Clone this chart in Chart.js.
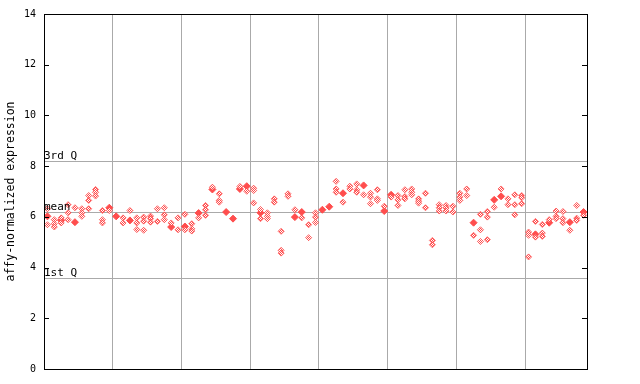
<!DOCTYPE html>
<html>
<head>
<meta charset="utf-8">
<script src="https://cdn.jsdelivr.net/npm/chart.js@4"></script>
<style>
  html, body { margin: 0; padding: 0; background: #fff; }
  #wrap { width: 640px; height: 384px; }
</style>
</head>
<body>
<div id="wrap"><canvas id="chart" width="640" height="384"></canvas></div>
<script>
// expression values per sample column (open diamonds)
const openVals = [
  [6.32, 5.69], [5.89, 5.73, 5.6], [5.96, 5.76], [6.48, 6.16, 5.89], [6.36],
  [6.32, 6.16, 6.02], [6.84, 6.65, 6.32], [7.08, 6.97, 6.82], [6.25, 5.89, 5.76], [6.25],
  [], [5.96, 5.76], [6.25], [5.96, 5.76, 5.5], [5.99, 5.83, 5.47],
  [6.03, 5.93, 5.79], [6.32, 5.82], [6.36, 6.08, 5.89], [5.76], [5.96, 5.49],
  [6.10, 5.49], [5.73, 5.53, 5.44], [5.96], [6.45, 6.28, 6.06], [7.17],
  [6.91, 6.65, 6.58], [], [], [7.2], [7.01],
  [7.13, 7.04, 6.55], [6.29, 5.93], [6.16, 6.02, 5.93], [6.71, 6.58], [5.43, 4.68, 4.57],
  [6.91, 6.81], [6.28], [5.96], [5.69, 5.18], [6.16, 5.99, 5.78],
  [], [], [7.40, 7.1, 6.97], [6.58], [7.21, 7.1],
  [7.3, 7.07, 6.97], [6.87], [6.93, 6.78, 6.52], [7.07, 6.71, 6.65], [6.42],
  [6.78], [6.84, 6.67, 6.45], [7.07, 6.8, 6.71], [7.1, 6.97, 6.87], [6.71, 6.62, 6.54],
  [6.93, 6.36], [5.07, 4.9], [6.48, 6.36, 6.23], [6.45, 6.35, 6.23], [6.42, 6.19],
  [6.93, 6.78, 6.65], [7.1, 6.84], [5.27], [6.1, 5.49, 5.03], [6.21, 5.99, 5.1],
  [6.38], [7.1], [6.71, 6.48], [6.87, 6.48, 6.08], [6.84, 6.75, 6.52],
  [5.4, 5.27, 4.42], [5.82, 5.2], [5.7, 5.36, 5.23], [5.89], [6.23, 6.02, 5.93],
  [6.21, 5.93, 5.77], [5.47], [6.45, 5.95, 5.86], [6.06]
];
// filled diamonds per sample column (null = none)
const solidVals = [
  6.02, null, 5.86, null, 5.79, null, null, null, null, 6.36,
  6.02, null, 5.86, null, null, null, null, null, 5.6, null,
  5.62, null, 6.15, null, 7.08, null, 6.19, 5.93, 7.1, 7.21,
  null, 6.16, null, null, null, null, 5.99, 6.19, null, null,
  6.28, 6.4, null, 6.93, null, null, 7.24, null, null, 6.23,
  6.87, null, null, null, null, null, null, null, null, null,
  null, null, 5.77, null, null, 6.67, 6.81, null, null, null,
  null, 5.31, null, 5.77, null, null, 5.79, null, 6.19
];
const groupBounds = [9.5, 19.5, 29.5, 39.5, 49.5, 59.5, 69.5];
const yTicks = [0, 2, 4, 6, 8, 10, 12, 14];
const refLines = [
  { label: '3rd Q', value: 8.19 },
  { label: 'mean', value: 6.21 },
  { label: '1st Q', value: 3.6 }
];

const red = '#ff4d4d';
const mono = "'DejaVu Sans Mono', 'Liberation Mono', monospace";

// checker fill like the dithered open markers
const pc = document.createElement('canvas');
pc.width = 2; pc.height = 2;
const pctx = pc.getContext('2d');
pctx.fillStyle = '#fff'; pctx.fillRect(0, 0, 2, 2);
pctx.fillStyle = red; pctx.fillRect(0, 0, 1, 1); pctx.fillRect(1, 1, 1, 1);
const checker = pctx.createPattern(pc, 'repeat');

const openPts = openVals.flatMap((vals, i) => vals.map(v => ({ x: i, y: v })));
const solidPts = solidVals.map((v, i) => v === null ? null : { x: i, y: v }).filter(p => p);

// reference lines, labels, frame and inward ticks
const decor = {
  id: 'decor',
  beforeDatasetsDraw(chart) {
    const ctx = chart.ctx, a = chart.chartArea, ys = chart.scales.y;
    ctx.save();
    ctx.strokeStyle = '#aaaaaa';
    ctx.lineWidth = 1;
    refLines.forEach(r => {
      const py = Math.round(ys.getPixelForValue(r.value)) + 0.5;
      ctx.beginPath(); ctx.moveTo(a.left, py); ctx.lineTo(a.right, py); ctx.stroke();
    });
    ctx.restore();
  },
  afterDraw(chart) {
    const ctx = chart.ctx, a = chart.chartArea, ys = chart.scales.y;
    ctx.save();
    ctx.fillStyle = '#000';
    ctx.font = '11px ' + mono;
    ctx.textBaseline = 'alphabetic';
    refLines.forEach(r => {
      const py = ys.getPixelForValue(r.value);
      ctx.fillText(r.label, a.left, py - 2);
    });
    ctx.strokeStyle = '#000';
    ctx.lineWidth = 1;
    ctx.strokeRect(Math.round(a.left) + 0.5, Math.round(a.top) + 0.5,
      Math.round(a.right - a.left), Math.round(a.bottom - a.top));
    yTicks.forEach(t => {
      const py = Math.round(ys.getPixelForValue(t)) + 0.5;
      ctx.beginPath();
      ctx.moveTo(a.left, py); ctx.lineTo(a.left + 5, py);
      ctx.moveTo(a.right - 5, py); ctx.lineTo(a.right, py);
      ctx.stroke();
    });
    ctx.restore();
  }
};

new Chart(document.getElementById('chart'), {
  type: 'scatter',
  data: {
    datasets: [
      {
        data: openPts,
        pointStyle: 'rectRot',
        radius: 3,
        borderWidth: 1,
        borderColor: 'rgba(255,77,77,0.8)',
        backgroundColor: checker
      },
      {
        data: solidPts,
        pointStyle: 'rectRot',
        radius: 3.5,
        borderWidth: 1,
        borderColor: red,
        backgroundColor: red
      }
    ]
  },
  options: {
    responsive: false,
    animation: false,
    layout: { padding: { top: 13, right: 53, bottom: 15, left: 0 } },
    plugins: { legend: { display: false }, tooltip: { enabled: false } },
    scales: {
      x: {
        type: 'linear',
        min: -0.5,
        max: 78.5,
        afterBuildTicks: s => { s.ticks = groupBounds.map(v => ({ value: v })); },
        afterFit: s => { s.height = 0; },
        ticks: { display: false },
        grid: { color: '#aaaaaa', drawTicks: false },
        border: { display: false }
      },
      y: {
        min: 0,
        max: 14,
        afterBuildTicks: s => { s.ticks = yTicks.map(v => ({ value: v })); },
        afterFit: s => { s.width = 44; },
        ticks: { color: '#000', padding: 8, font: { family: mono, size: 10 } },
        grid: { display: false, drawTicks: false },
        border: { display: false },
        title: {
          display: true,
          text: 'affy-normalized expression',
          color: '#000',
          padding: { top: 4, bottom: 0 },
          font: { family: mono, size: 11.5 }
        }
      }
    }
  },
  plugins: [decor]
});
</script>
</body>
</html>
